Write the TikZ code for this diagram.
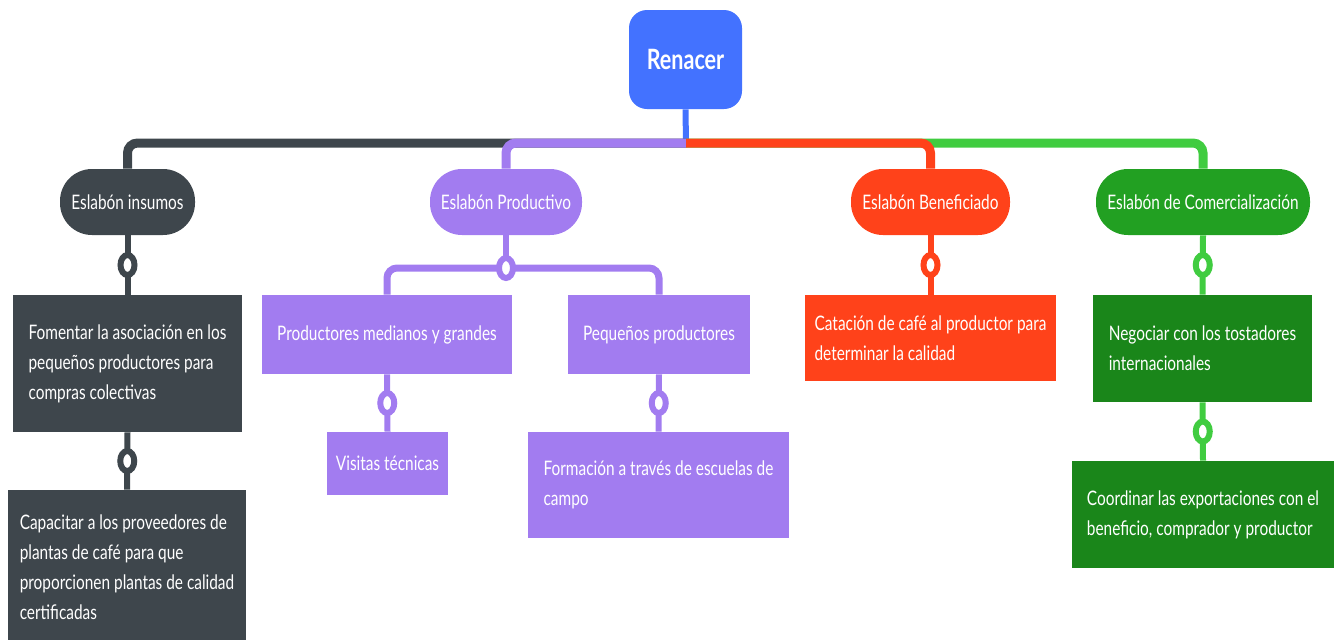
\documentclass[tikz,border=0pt]{standalone}
\usepackage{fontspec}
\setmainfont{Lato}[FakeStretch=0.77]
\usetikzlibrary{shapes.geometric}
\definecolor{renblue}{HTML}{4372FF}
\definecolor{insgray}{HTML}{3E464C}
\definecolor{propur}{HTML}{A27CF0}
\definecolor{benred}{HTML}{FF421A}
\definecolor{comgrn}{HTML}{22A022}
\definecolor{comdark}{HTML}{1A861A}
\definecolor{comlight}{HTML}{40CC40}
\begin{document}
\begin{tikzpicture}[x=0.5pt,y=-0.5pt,
  box/.style={fill=#1,text=white,inner sep=0pt,align=left,font=\fontsize{10}{15}\selectfont},
  pill/.style={box=#1,rounded corners=16pt,minimum height=33pt},
  lnk/.style={draw=#1,line width=3pt,rounded corners=5pt},
  ring/.style={ellipse,draw=#1,fill=white,line width=3pt,minimum width=7pt,minimum height=10pt,inner sep=0pt}]
\clip (0,0) rectangle (1334,639);
\node[box=renblue,rounded corners=9pt,minimum width=56.5pt,minimum height=49.5pt,font=\bfseries\fontsize{14}{16}\selectfont] (ren) at (685.5,59.5) {Renacer};
\node[pill=insgray,minimum width=67.5pt] (ins) at (127.5,202) {Eslabón insumos};
\node[pill=propur,minimum width=76pt] (pro) at (506,202) {Eslabón Productivo};
\node[pill=benred,minimum width=79.5pt] (ben) at (930.5,202) {Eslabón Beneficiado};
\node[pill=comgrn,minimum width=107pt] (com) at (1203,202) {Eslabón de Comercialización};
\node[box=insgray,minimum width=114.5pt,minimum height=68.5pt] (fom) at (127.5,363.5) {Fomentar la asociación en los\\pequeños productores para\\compras colectivas};
\node[box=insgray,minimum width=119pt,minimum height=77pt] (cap) at (127,567) {Capacitar a los proveedores de\\plantas de café para que\\proporcionen plantas de calidad\\certificadas};
\node[box=propur,minimum width=125pt,minimum height=39.5pt] (med) at (387,334.5) {Productores medianos y grandes};
\node[box=propur,minimum width=91pt,minimum height=39.5pt] (peq) at (659,334.5) {Pequeños productores};
\node[box=propur,minimum width=60.5pt,minimum height=31.5pt] (vis) at (387.5,463.5) {Visitas técnicas};
\node[box=propur,minimum width=130.5pt,minimum height=53pt] (frm) at (658.5,485) {Formación a través de escuelas de\\campo};
\node[box=benred,minimum width=125.5pt,minimum height=43pt] (cat) at (930.5,338) {Catación de café al productor para\\determinar la calidad};
\node[box=comdark,minimum width=109.5pt,minimum height=53.5pt] (neg) at (1202.5,348.5) {Negociar con los tostadores\\internacionales};
\node[box=comdark,minimum width=131pt,minimum height=53.5pt] (coo) at (1203,514.5) {Coordinar las exportaciones con el\\beneficio, comprador y productor};
\coordinate (bus) at (686,143);
\coordinate (pj) at (506,268);
\draw[lnk=renblue] (ren.south) -- (bus);
\draw[lnk=insgray,line width=4.5pt] (bus) -| (ins.north);
\draw[lnk=comlight,line width=4.5pt] (bus) -| (com.north);
\draw[lnk=propur,line width=4.5pt] (bus) -| (pro.north);
\draw[lnk=benred,line width=4.5pt] (bus) -| (ben.north);
\draw[lnk=insgray] (ins.south) -- node[ring=insgray]{} (fom.north);
\draw[lnk=insgray] (fom.south) -- node[ring=insgray]{} (cap.north);
\draw[lnk=propur,line width=3.5pt] (med.north) |- (pj) -| (peq.north);
\draw[lnk=propur] (pro.south) -- (pj);
\node[ring=propur] at (pj) {};
\draw[lnk=propur] (med.south) -- node[ring=propur]{} (vis.north);
\draw[lnk=propur] (peq.south) -- node[ring=propur]{} (frm.north);
\draw[lnk=benred] (ben.south) -- node[ring=benred]{} (cat.north);
\draw[lnk=comlight] (com.south) -- node[ring=comlight]{} (neg.north);
\draw[lnk=comlight] (neg.south) -- node[ring=comlight]{} (coo.north);
\end{tikzpicture}
\end{document}
